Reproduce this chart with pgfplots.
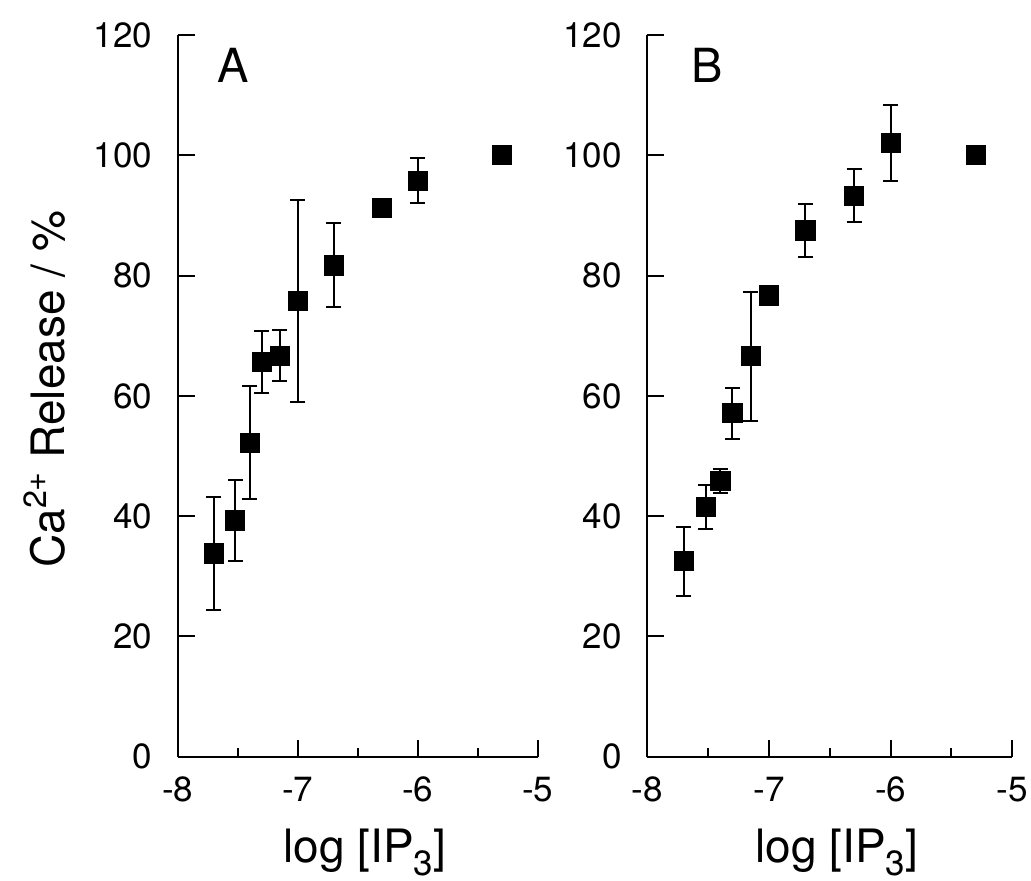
\documentclass[border=0pt]{standalone}
\usepackage{fontspec}
\setmainfont{TeX Gyre Heros}
\usepackage{pgfplots}
\usepackage{pgfplotstable}
\pgfplotsset{compat=1.18}

\pgfplotstableread{
x      y      e
-7.70  33.8   9.4
-7.52  39.3   6.7
-7.40  52.2   9.4
-7.30  65.6   5.2
-7.15  66.7   4.2
-7.00  75.8  16.8
-6.70  81.7   7.0
-6.30  91.3   0.0
-6.00  95.8   3.7
-5.30 100.0   0.0
}\dataA

\pgfplotstableread{
x      y      e
-7.70  32.5   5.7
-7.52  41.5   3.7
-7.40  45.9   2.0
-7.30  57.1   4.2
-7.15  66.6  10.7
-7.00  76.7   0.0
-6.70  87.5   4.4
-6.30  93.3   4.4
-6.00 102.0   6.3
-5.30 100.0   0.0
}\dataB

\pgfplotsset{
  panel/.style={
    scale only axis,
    height=360.85pt,
    xmin=-8, xmax=-5, ymin=0, ymax=120,
    axis lines=left,
    axis line style={-, line width=1pt, black},
    tick align=inside,
    xtick={-8,-7,-6,-5}, xticklabels={-8,-7,-6,-5},
    minor xtick={-7.5,-6.5,-5.5},
    ytick={0,20,40,60,80,100,120}, yticklabels={0,20,40,60,80,100,120},
    major tick length=8.5pt, minor tick length=4.5pt,
    tick style={black, line width=1pt},
    tick label style={font=\fontsize{17.5}{20}\selectfont, inner sep=0pt},
    xticklabel style={yshift=-10pt},
    yticklabel style={xshift=-12.5pt},
    xlabel={log [IP\raisebox{-6.5pt}{\fontsize{17.5}{20}\selectfont 3}]},
    xlabel style={font=\fontsize{23}{27}\selectfont, at={(axis description cs:0.5,0)}, anchor=base, yshift=-52.65pt, xshift=3.5pt},
    clip=false,
  },
  pts/.style={
    only marks, mark=square*, mark size=4.8pt, black,
    mark options={fill=black, draw=black, solid},
    error bars/.cd, y dir=both, y explicit,
    error bar style={line width=1pt, black},
    error mark options={rotate=90, mark size=3.75pt, line width=1pt, black},
  },
}

\begin{document}
\begin{tikzpicture}
\useasboundingbox (-88.85pt,-61.65pt) rectangle (426.65pt,378.35pt);
\begin{axis}[panel, width=180pt, at={(0pt,0pt)}, anchor=south west,
  ylabel={Ca\textsuperscript{2+} Release / \%},
  ylabel style={font=\fontsize{23}{27}\selectfont, at={(axis description cs:-0.371,0.509)}, anchor=center},
]
\addplot[pts] table[x=x, y=y, y error=e] {\dataA};
\node[font=\fontsize{23.5}{27}\selectfont] at (axis cs:-7.54,115) {A};
\end{axis}
\begin{axis}[panel, width=182.5pt, at={(234.8pt,0pt)}, anchor=south west]
\addplot[pts] table[x=x, y=y, y error=e] {\dataB};
\node[font=\fontsize{23.5}{27}\selectfont] at (axis cs:-7.51,115) {B};
\end{axis}
\end{tikzpicture}
\end{document}
